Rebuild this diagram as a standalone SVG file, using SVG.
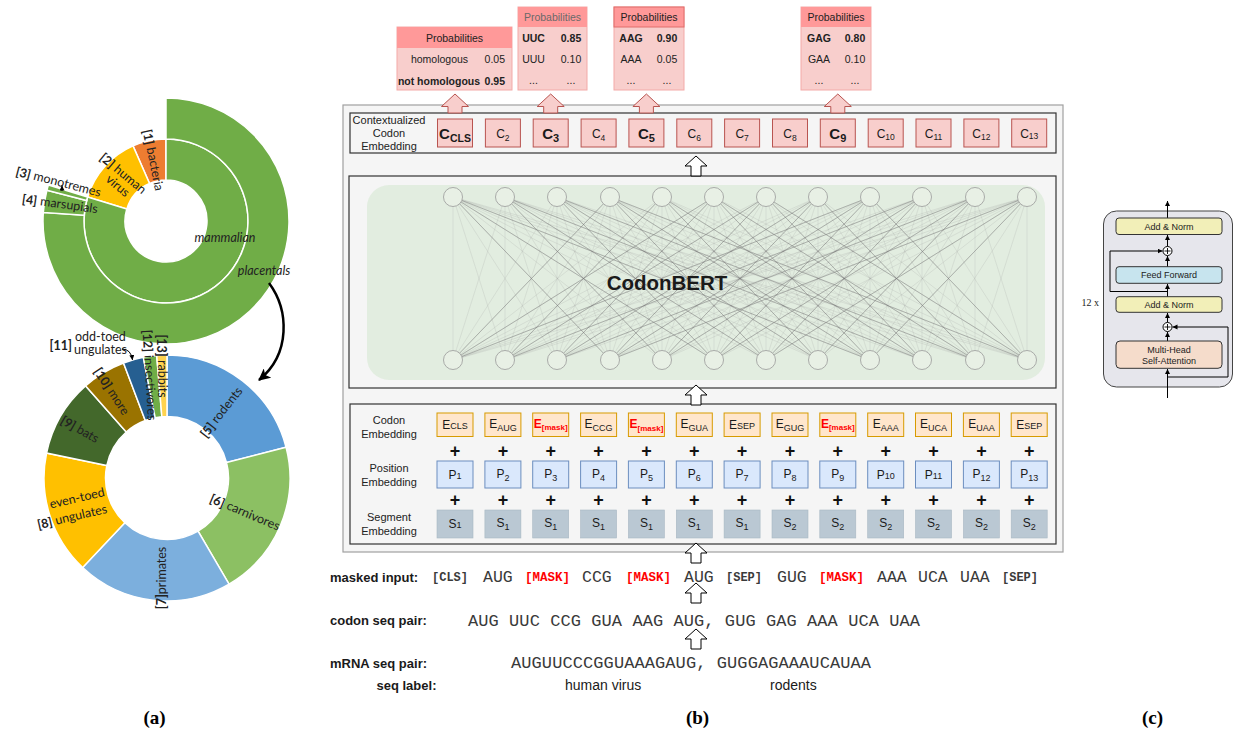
<svg xmlns="http://www.w3.org/2000/svg" width="1236" height="732" viewBox="0 0 1236 732">
<defs>
<style>
.s{font-family:"Liberation Sans",Arial,sans-serif;fill:#1a1a1a}
.mo{font-family:"Liberation Mono","Courier New",monospace;fill:#3a3a3a}
.la{font-family:Lato,"Open Sans",sans-serif;font-size:12.5px;fill:#222}
.b{font-weight:bold}
.red{fill:#ff0000}
.cb{fill:#f8cecc;stroke:#b85450;stroke-width:1}
.eb{fill:#ffe6cc;stroke:#d79b00;stroke-width:1}
.pb{fill:#dae8fc;stroke:#6c8ebf;stroke-width:1}
.sb{fill:#bac8d3;stroke:#a9b8c4;stroke-width:.6}
.panel{fill:#f5f5f5;stroke:#333;stroke-width:1.2}
.wa{fill:#fff;stroke:#000;stroke-width:1}
.pa{fill:#f8cecc;stroke:#b85450;stroke-width:1}
.seg{stroke:#fff;stroke-width:1.5}
.nd{fill:#e8f0e5;stroke:#999;stroke-width:.8}
.tb{stroke:#333;stroke-width:1}
.cl{fill:none;stroke:#000;stroke-width:1}
.pbx{fill:#f8cecc;stroke:#f3aaa8;stroke-width:1}
.phd{fill:#ff9999}
.pt{font-family:"Liberation Sans",Arial,sans-serif;font-size:10.5px;fill:#222;text-anchor:middle}
.lab{font-family:"Liberation Sans",Arial,sans-serif;font-size:11px;fill:#222;text-anchor:middle}
.ct{font-family:"Liberation Sans",Arial,sans-serif;font-size:9px;fill:#222;text-anchor:middle}
.pl{font-family:"Liberation Sans",Arial,sans-serif;font-size:18px;font-weight:bold;fill:#111;text-anchor:middle}
</style>
<path id="wArrow" d="M0 0L11 10L5 10L5 20L-5 20L-5 10L-11 10Z"/>
<path id="pArrow" d="M0 0L13.5 12.5L7 12.5L7 19L-7 19L-7 12.5L-13.5 12.5Z"/>
<marker id="ah" markerWidth="14" markerHeight="12" refX="11" refY="6" orient="auto" markerUnits="userSpaceOnUse"><path d="M0 0L12 6L0 12L3 6Z" fill="#000"/></marker>
<marker id="ahs" markerWidth="6" markerHeight="6" refX="5" refY="2.5" orient="auto" markerUnits="userSpaceOnUse"><path d="M0 0L5 2.5L0 5Z" fill="#000"/></marker>
</defs>
<rect width="1236" height="732" fill="#fff"/>

<!-- ================= (a) ================= -->
<g id="a-sunburst">
<path class="seg" fill="#ed7d31" d="M133.04 145.91A82 82 0 0 1 166 139L166 180A41 41 0 0 0 149.52 183.46Z"/>
<path class="seg" fill="#ffc000" d="M87.58 197.02A82 82 0 0 1 133.04 145.91L149.52 183.46A41 41 0 0 0 126.79 209.01Z"/>
<path class="seg" fill="#70ad47" d="M166 139A82 82 0 1 1 87.58 197.02L126.79 209.01A41 41 0 1 0 166 180Z"/>
<path class="seg" fill="#70ad47" d="M166 98A123 123 0 1 1 43.3 212.41L84.2 215.28A82 82 0 1 0 166 139Z"/>
<path class="seg" fill="#70ad47" d="M43.3 212.41A123 123 0 0 1 46.92 190.2L86.62 200.47A82 82 0 0 0 84.2 215.28Z"/>
<path class="seg" fill="#70ad47" d="M46.92 190.2A123 123 0 0 1 48.38 185.03L87.58 197.02A82 82 0 0 0 86.62 200.47Z"/>
</g>
<g id="a-labels-top">
<text class="la" font-size="13" text-anchor="middle" dominant-baseline="central" transform="translate(153.5 160) rotate(78.5)"><tspan class="b">[1]</tspan> bacteria</text>
<g transform="translate(121 179) rotate(40)">
<text class="la" font-size="13" text-anchor="middle" dominant-baseline="central" x="-2" y="-6"><tspan class="b">[2]</tspan> human</text>
<text class="la" font-size="13" text-anchor="middle" dominant-baseline="central" x="2" y="7">virus</text>
</g>
<text class="la" font-size="13" text-anchor="middle" dominant-baseline="central" transform="translate(58.5 181.5) rotate(14.5)"><tspan class="b">[3]</tspan> monotremes</text>
<text class="la" font-size="13" text-anchor="middle" dominant-baseline="central" transform="translate(60 203.5) rotate(8)"><tspan class="b">[4]</tspan> marsupials</text>
<path class="cl" d="M62 191V185.5" marker-end="url(#ahs)"/>
<text class="la" font-size="13.5" font-style="italic" x="225" y="242" text-anchor="middle">mammalian</text>
<text class="la" font-size="13.5" font-style="italic" x="264" y="275" text-anchor="middle">placentals</text>
</g>
<g id="a-link">
<path d="M269 283C289 310 291 354 259 380" fill="none" stroke="#000" stroke-width="2.5" marker-end="url(#ah)"/>
</g>
<g id="a-donut">
<path class="seg" fill="#5b9bd5" d="M167 355A123 123 0 0 1 286.08 447.2L226.54 462.6A61.5 61.5 0 0 0 167 416.5Z"/>
<path class="seg" fill="#8cc063" d="M286.08 447.2A123 123 0 0 1 229.05 584.2L198.03 531.1A61.5 61.5 0 0 0 226.54 462.6Z"/>
<path class="seg" fill="#7cafdd" d="M229.05 584.2A123 123 0 0 1 82.65 567.52L124.82 522.76A61.5 61.5 0 0 0 198.03 531.1Z"/>
<path class="seg" fill="#ffc000" d="M82.65 567.52A123 123 0 0 1 46.56 453.06L106.78 465.53A61.5 61.5 0 0 0 124.82 522.76Z"/>
<path class="seg" fill="#43682b" d="M46.56 453.06A123 123 0 0 1 85.5 385.87L126.25 431.94A61.5 61.5 0 0 0 106.78 465.53Z"/>
<path class="seg" fill="#9a7300" d="M85.5 385.87A123 123 0 0 1 123.52 362.95L145.26 420.47A61.5 61.5 0 0 0 126.25 431.94Z"/>
<path class="seg" fill="#265f91" d="M123.52 362.95A123 123 0 0 1 143.32 357.3L155.16 417.65A61.5 61.5 0 0 0 145.26 420.47Z"/>
<path class="seg" fill="#70ad47" d="M143.32 357.3A123 123 0 0 1 156.7 355.43L161.85 416.72A61.5 61.5 0 0 0 155.16 417.65Z"/>
<path class="seg" fill="#ffd34f" d="M156.7 355.43A123 123 0 0 1 167 355L167 416.5A61.5 61.5 0 0 0 161.85 416.72Z"/>
</g>
<g id="a-labels-bottom">
<text class="la" text-anchor="middle" dominant-baseline="central" transform="translate(221 412) rotate(-52)"><tspan class="b">[5]</tspan> rodents</text>
<text class="la" text-anchor="middle" dominant-baseline="central" transform="translate(245 512) rotate(23)"><tspan class="b">[6]</tspan> carnivores</text>
<text class="la" text-anchor="middle" dominant-baseline="central" transform="translate(161 578) rotate(-90)"><tspan class="b">[7]</tspan>primates</text>
<g transform="translate(75 507) rotate(-13)">
<text class="la" text-anchor="middle" dominant-baseline="central" x="4" y="-8.5">even-toed</text>
<text class="la" text-anchor="middle" dominant-baseline="central" x="-5" y="8.5"><tspan class="b">[8]</tspan> ungulates</text>
</g>
<text class="la" text-anchor="middle" dominant-baseline="central" transform="translate(80 429) rotate(30)"><tspan class="b">[9]</tspan> bats</text>
<text class="la" text-anchor="middle" dominant-baseline="central" transform="translate(112 391) rotate(57)"><tspan class="b">[10]</tspan> more</text>
<text class="la b" font-size="11" x="49.5" y="350">[11]</text>
<text class="la" font-size="10" x="75" y="340.5">odd-toed</text>
<text class="la" font-size="10" x="74" y="354">ungulates</text>
<path class="cl" d="M122 349Q131 349 132.5 360" marker-end="url(#ahs)"/>
<text class="la" text-anchor="middle" dominant-baseline="central" transform="translate(150 375) rotate(87)"><tspan class="b">[12]</tspan> insectivores</text>
<text class="la" text-anchor="middle" dominant-baseline="central" transform="translate(162 366) rotate(90)"><tspan class="b">[13]</tspan> rabbits</text>
</g>

<!-- ================= (b) ================= -->
<rect id="b-panel" x="343" y="105" width="720" height="447" fill="#f5f5f5" stroke="#a0a0a0" stroke-width="1.2"/>

<g id="prob-cls">
<rect class="pbx" x="397" y="27" width="115" height="63"/>
<rect class="phd" x="397" y="27" width="115" height="21"/>
<text class="pt" x="454.5" y="41.5">Probabilities</text>
<text class="pt" font-size="10" x="439.5" y="62.5">homologous</text>
<text class="pt" font-size="10" x="505" y="62.5" style="text-anchor:end">0.05</text>
<text class="pt b" font-size="10" x="439" y="84.5">not homologous</text>
<text class="pt b" font-size="10" x="505" y="84.5" style="text-anchor:end">0.95</text>
</g>
<g id="prob-c3">
<rect class="pbx" x="518" y="7" width="69" height="83"/>
<rect class="phd" x="518" y="7" width="69" height="20"/>
<text class="pt" x="552.5" y="21" style="fill:#6a6a6a">Probabilities</text>
<text class="pt b" font-size="11" x="533.5" y="42">UUC</text>
<text class="pt b" font-size="11" x="571" y="42">0.85</text>
<text class="pt" font-size="11" x="533.5" y="62.5">UUU</text>
<text class="pt" font-size="11" x="571" y="62.5">0.10</text>
<text class="pt" font-size="10" x="533.5" y="84">...</text>
<text class="pt" font-size="10" x="571" y="84">...</text>
</g>
<g id="prob-c5">
<rect class="pbx" x="614" y="7" width="70" height="83"/>
<rect class="phd" x="614" y="7" width="70" height="20" stroke="#e06c6a" stroke-width="1"/>
<text class="pt" x="649" y="21">Probabilities</text>
<text class="pt b" font-size="11" x="631" y="42">AAG</text>
<text class="pt b" font-size="11" x="667" y="42">0.90</text>
<text class="pt" font-size="11" x="631" y="62.5">AAA</text>
<text class="pt" font-size="11" x="667" y="62.5">0.05</text>
<text class="pt" font-size="10" x="631" y="84">...</text>
<text class="pt" font-size="10" x="667" y="84">...</text>
</g>
<g id="prob-c9">
<rect class="pbx" x="801" y="7" width="70" height="83"/>
<rect class="phd" x="801" y="7" width="70" height="20"/>
<text class="pt" x="836" y="21">Probabilities</text>
<text class="pt b" font-size="11" x="819" y="42">GAG</text>
<text class="pt b" font-size="11" x="855" y="42">0.80</text>
<text class="pt" font-size="11" x="819" y="62.5">GAA</text>
<text class="pt" font-size="11" x="855" y="62.5">0.10</text>
<text class="pt" font-size="10" x="819" y="84">...</text>
<text class="pt" font-size="10" x="855" y="84">...</text>
</g>

<g id="ctx-row">
<rect class="panel" x="350" y="113" width="706" height="40"/>
<text class="lab" font-size="10.5" x="389" y="124">Contextualized</text>
<text class="lab" font-size="10.5" x="389" y="137">Codon</text>
<text class="lab" font-size="10.5" x="389" y="150">Embedding</text>
</g>
<g id="c1"><rect class="cb" x="437.5" y="119" width="35" height="28"/><text class="s b" x="455" y="139" font-size="15" text-anchor="middle">C<tspan font-size="10.5" dy="3">CLS</tspan></text></g>
<g id="c2"><rect class="cb" x="485.4" y="119" width="35" height="28"/><text class="s" x="502.9" y="137.5" font-size="12" text-anchor="middle">C<tspan font-size="8.5" dy="3">2</tspan></text></g>
<g id="c3"><rect class="cb" x="533.2" y="119" width="35" height="28"/><text class="s b" x="550.7" y="139" font-size="15" text-anchor="middle">C<tspan font-size="11" dy="3">3</tspan></text></g>
<g id="c4"><rect class="cb" x="581.1" y="119" width="35" height="28"/><text class="s" x="598.6" y="137.5" font-size="12" text-anchor="middle">C<tspan font-size="8.5" dy="3">4</tspan></text></g>
<g id="c5"><rect class="cb" x="628.9" y="119" width="35" height="28"/><text class="s b" x="646.4" y="139" font-size="15" text-anchor="middle">C<tspan font-size="11" dy="3">5</tspan></text></g>
<g id="c6"><rect class="cb" x="676.8" y="119" width="35" height="28"/><text class="s" x="694.3" y="137.5" font-size="12" text-anchor="middle">C<tspan font-size="8.5" dy="3">6</tspan></text></g>
<g id="c7"><rect class="cb" x="724.6" y="119" width="35" height="28"/><text class="s" x="742.1" y="137.5" font-size="12" text-anchor="middle">C<tspan font-size="8.5" dy="3">7</tspan></text></g>
<g id="c8"><rect class="cb" x="772.5" y="119" width="35" height="28"/><text class="s" x="790" y="137.5" font-size="12" text-anchor="middle">C<tspan font-size="8.5" dy="3">8</tspan></text></g>
<g id="c9"><rect class="cb" x="820.3" y="119" width="35" height="28"/><text class="s b" x="837.8" y="139" font-size="15" text-anchor="middle">C<tspan font-size="11" dy="3">9</tspan></text></g>
<g id="c10"><rect class="cb" x="868.2" y="119" width="35" height="28"/><text class="s" x="885.7" y="137.5" font-size="12" text-anchor="middle">C<tspan font-size="8.5" dy="2">10</tspan></text></g>
<g id="c11"><rect class="cb" x="916" y="119" width="35" height="28"/><text class="s" x="933.5" y="137.5" font-size="12" text-anchor="middle">C<tspan font-size="8.5" dy="2">11</tspan></text></g>
<g id="c12"><rect class="cb" x="963.9" y="119" width="35" height="28"/><text class="s" x="981.4" y="137.5" font-size="12" text-anchor="middle">C<tspan font-size="8.5" dy="2">12</tspan></text></g>
<g id="c13"><rect class="cb" x="1011.7" y="119" width="35" height="28"/><text class="s" x="1029.2" y="137.5" font-size="12" text-anchor="middle">C<tspan font-size="8.5" dy="1">13</tspan></text></g>

<g id="codonbert">
<rect class="panel" x="349" y="176" width="707" height="212"/>
<rect x="367" y="185" width="678" height="195" rx="22" fill="#e2ede0"/>
<g id="attn-lines">
<path fill="none" stroke="#9a9a9a" stroke-opacity=".28" stroke-width=".7" d="M453 360L453 197L505 360M557 360L453 197L610 360M662 360L453 197L714 360M766 360L453 197L818 360M870 360L453 197L922 360M975 360L453 197L1027 360M453 360L505 197L505 360M557 360L505 197L610 360M662 360L505 197L714 360M766 360L505 197L818 360M870 360L505 197L922 360M975 360L505 197L1027 360M453 360L557 197L505 360M557 360L557 197L610 360M662 360L557 197L714 360M766 360L557 197L818 360M870 360L557 197L922 360M975 360L557 197L1027 360M453 360L610 197L505 360M557 360L610 197L610 360M662 360L610 197L714 360M766 360L610 197L818 360M870 360L610 197L922 360M975 360L610 197L1027 360M453 360L662 197L505 360M557 360L662 197L610 360M662 360L662 197L714 360M766 360L662 197L818 360M870 360L662 197L922 360M975 360L662 197L1027 360M453 360L714 197L505 360M557 360L714 197L610 360M662 360L714 197L714 360M766 360L714 197L818 360M870 360L714 197L922 360M975 360L714 197L1027 360M453 360L766 197L505 360M557 360L766 197L610 360M662 360L766 197L714 360M766 360L766 197L818 360M870 360L766 197L922 360M975 360L766 197L1027 360M453 360L818 197L505 360M557 360L818 197L610 360M662 360L818 197L714 360M766 360L818 197L818 360M870 360L818 197L922 360M975 360L818 197L1027 360M453 360L870 197L505 360M557 360L870 197L610 360M662 360L870 197L714 360M766 360L870 197L818 360M870 360L870 197L922 360M975 360L870 197L1027 360M453 360L922 197L505 360M557 360L922 197L610 360M662 360L922 197L714 360M766 360L922 197L818 360M870 360L922 197L922 360M975 360L922 197L1027 360M453 360L975 197L505 360M557 360L975 197L610 360M662 360L975 197L714 360M766 360L975 197L818 360M870 360L975 197L922 360M975 360L975 197L1027 360M453 360L1027 197L505 360M557 360L1027 197L610 360M662 360L1027 197L714 360M766 360L1027 197L818 360M870 360L1027 197L922 360M975 360L1027 197L1027 360"/>
<path fill="none" stroke="#777" stroke-opacity=".6" stroke-width=".75" d="M453 197L610 360M453 197L714 360M453 197L870 360M505 197L662 360M505 197L766 360M505 197L922 360M557 197L714 360M557 197L818 360M557 197L975 360M610 197L453 360M610 197L766 360M610 197L870 360M610 197L1027 360M662 197L505 360M662 197L818 360M662 197L922 360M714 197L557 360M714 197L453 360M714 197L870 360M714 197L975 360M766 197L610 360M766 197L505 360M766 197L922 360M766 197L1027 360M818 197L662 360M818 197L557 360M818 197L975 360M870 197L714 360M870 197L610 360M870 197L453 360M870 197L1027 360M922 197L766 360M922 197L662 360M922 197L505 360M975 197L818 360M975 197L714 360M975 197L557 360M1027 197L870 360M1027 197L766 360M1027 197L610 360"/>
</g>
<g id="attn-nodes">
<circle class="nd" cx="453" cy="197" r="9.5"/><circle class="nd" cx="505" cy="197" r="9.5"/><circle class="nd" cx="557" cy="197" r="9.5"/><circle class="nd" cx="610" cy="197" r="9.5"/><circle class="nd" cx="662" cy="197" r="9.5"/><circle class="nd" cx="714" cy="197" r="9.5"/><circle class="nd" cx="766" cy="197" r="9.5"/><circle class="nd" cx="818" cy="197" r="9.5"/><circle class="nd" cx="870" cy="197" r="9.5"/><circle class="nd" cx="922" cy="197" r="9.5"/><circle class="nd" cx="975" cy="197" r="9.5"/><circle class="nd" cx="1027" cy="197" r="9.5"/>
<circle class="nd" cx="453" cy="360" r="9.5"/><circle class="nd" cx="505" cy="360" r="9.5"/><circle class="nd" cx="557" cy="360" r="9.5"/><circle class="nd" cx="610" cy="360" r="9.5"/><circle class="nd" cx="662" cy="360" r="9.5"/><circle class="nd" cx="714" cy="360" r="9.5"/><circle class="nd" cx="766" cy="360" r="9.5"/><circle class="nd" cx="818" cy="360" r="9.5"/><circle class="nd" cx="870" cy="360" r="9.5"/><circle class="nd" cx="922" cy="360" r="9.5"/><circle class="nd" cx="975" cy="360" r="9.5"/><circle class="nd" cx="1027" cy="360" r="9.5"/>
</g>
<text class="s b" x="667" y="290" font-size="20.5" text-anchor="middle" fill="#111">CodonBERT</text>
</g>

<g id="embed-panel">
<rect class="panel" x="350" y="404" width="706" height="140"/>
<text class="lab" x="389" y="424">Codon</text>
<text class="lab" x="389" y="438">Embedding</text>
<text class="lab" x="389" y="472">Position</text>
<text class="lab" x="389" y="486">Embedding</text>
<text class="lab" x="389" y="521">Segment</text>
<text class="lab" x="389" y="535">Embedding</text>
</g>
<g id="codon-emb">
<g id="e1"><rect class="eb" x="437" y="413" width="36" height="23.5"/><text class="s" x="455" y="429" font-size="12" text-anchor="middle">E<tspan font-size="9">CLS</tspan></text></g>
<g id="e2"><rect class="eb" x="484.9" y="413" width="36" height="23.5"/><text class="s" x="502.9" y="428" font-size="12" text-anchor="middle">E<tspan font-size="9" dy="3">AUG</tspan></text></g>
<g id="e3"><rect class="eb" x="532.7" y="413" width="36" height="23.5"/><text class="s b red" x="550.7" y="428" font-size="12" text-anchor="middle">E<tspan font-size="8" dy="2">[mask]</tspan></text></g>
<g id="e4"><rect class="eb" x="580.6" y="413" width="36" height="23.5"/><text class="s" x="598.6" y="428" font-size="12" text-anchor="middle">E<tspan font-size="9" dy="3">CCG</tspan></text></g>
<g id="e5"><rect class="eb" x="628.4" y="413" width="36" height="23.5"/><text class="s b red" x="646.4" y="428" font-size="12" text-anchor="middle">E<tspan font-size="8" dy="3">[mask]</tspan></text></g>
<g id="e6"><rect class="eb" x="676.3" y="413" width="36" height="23.5"/><text class="s" x="694.3" y="428" font-size="12" text-anchor="middle">E<tspan font-size="9" dy="3">GUA</tspan></text></g>
<g id="e7"><rect class="eb" x="724.1" y="413" width="36" height="23.5"/><text class="s" x="742.1" y="429" font-size="12" text-anchor="middle">E<tspan font-size="9">SEP</tspan></text></g>
<g id="e8"><rect class="eb" x="772" y="413" width="36" height="23.5"/><text class="s" x="790" y="428" font-size="12" text-anchor="middle">E<tspan font-size="9" dy="3">GUG</tspan></text></g>
<g id="e9"><rect class="eb" x="819.8" y="413" width="36" height="23.5"/><text class="s b red" x="837.8" y="428" font-size="12" text-anchor="middle">E<tspan font-size="8" dy="2">[mask]</tspan></text></g>
<g id="e10"><rect class="eb" x="867.7" y="413" width="36" height="23.5"/><text class="s" x="885.7" y="428" font-size="12" text-anchor="middle">E<tspan font-size="9" dy="3">AAA</tspan></text></g>
<g id="e11"><rect class="eb" x="915.5" y="413" width="36" height="23.5"/><text class="s" x="933.5" y="428" font-size="12" text-anchor="middle">E<tspan font-size="9" dy="3">UCA</tspan></text></g>
<g id="e12"><rect class="eb" x="963.4" y="413" width="36" height="23.5"/><text class="s" x="981.4" y="428" font-size="12" text-anchor="middle">E<tspan font-size="9" dy="3">UAA</tspan></text></g>
<g id="e13"><rect class="eb" x="1011.2" y="413" width="36" height="23.5"/><text class="s" x="1029.2" y="429" font-size="12" text-anchor="middle">E<tspan font-size="9">SEP</tspan></text></g>
</g>
<g id="plus-row1">
<text class="pl" x="455" y="457">+</text><text class="pl" x="502.9" y="457">+</text><text class="pl" x="550.7" y="457">+</text><text class="pl" x="598.6" y="457">+</text><text class="pl" x="646.4" y="457">+</text><text class="pl" x="694.3" y="457">+</text><text class="pl" x="742.1" y="457">+</text><text class="pl" x="790" y="457">+</text><text class="pl" x="837.8" y="457">+</text><text class="pl" x="885.7" y="457">+</text><text class="pl" x="933.5" y="457">+</text><text class="pl" x="981.4" y="457">+</text><text class="pl" x="1029.2" y="457">+</text>
</g>
<g id="pos-emb">
<g id="p1"><rect class="pb" x="437" y="461" width="36" height="27"/><text class="s" x="455" y="479" font-size="12" text-anchor="middle">P<tspan font-size="9">1</tspan></text></g>
<g id="p2"><rect class="pb" x="484.9" y="461" width="36" height="27"/><text class="s" x="502.9" y="478" font-size="12" text-anchor="middle">P<tspan font-size="9" dy="3">2</tspan></text></g>
<g id="p3"><rect class="pb" x="532.7" y="461" width="36" height="27"/><text class="s" x="550.7" y="478" font-size="12" text-anchor="middle">P<tspan font-size="9" dy="3">3</tspan></text></g>
<g id="p4"><rect class="pb" x="580.6" y="461" width="36" height="27"/><text class="s" x="598.6" y="478" font-size="12" text-anchor="middle">P<tspan font-size="9" dy="3">4</tspan></text></g>
<g id="p5"><rect class="pb" x="628.4" y="461" width="36" height="27"/><text class="s" x="646.4" y="478" font-size="12" text-anchor="middle">P<tspan font-size="9" dy="3">5</tspan></text></g>
<g id="p6"><rect class="pb" x="676.3" y="461" width="36" height="27"/><text class="s" x="694.3" y="478" font-size="12" text-anchor="middle">P<tspan font-size="9" dy="3">6</tspan></text></g>
<g id="p7"><rect class="pb" x="724.1" y="461" width="36" height="27"/><text class="s" x="742.1" y="478" font-size="12" text-anchor="middle">P<tspan font-size="9" dy="3">7</tspan></text></g>
<g id="p8"><rect class="pb" x="772" y="461" width="36" height="27"/><text class="s" x="790" y="478" font-size="12" text-anchor="middle">P<tspan font-size="9" dy="3">8</tspan></text></g>
<g id="p9"><rect class="pb" x="819.8" y="461" width="36" height="27"/><text class="s" x="837.8" y="478" font-size="12" text-anchor="middle">P<tspan font-size="9" dy="3">9</tspan></text></g>
<g id="p10"><rect class="pb" x="867.7" y="461" width="36" height="27"/><text class="s" x="885.7" y="479" font-size="12" text-anchor="middle">P<tspan font-size="9">10</tspan></text></g>
<g id="p11"><rect class="pb" x="915.5" y="461" width="36" height="27"/><text class="s" x="933.5" y="479" font-size="12" text-anchor="middle">P<tspan font-size="9">11</tspan></text></g>
<g id="p12"><rect class="pb" x="963.4" y="461" width="36" height="27"/><text class="s" x="981.4" y="478" font-size="12" text-anchor="middle">P<tspan font-size="9" dy="3">12</tspan></text></g>
<g id="p13"><rect class="pb" x="1011.2" y="461" width="36" height="27"/><text class="s" x="1029.2" y="478" font-size="12" text-anchor="middle">P<tspan font-size="9" dy="3">13</tspan></text></g>
</g>
<g id="plus-row2">
<text class="pl" x="455" y="505.5">+</text><text class="pl" x="502.9" y="505.5">+</text><text class="pl" x="550.7" y="505.5">+</text><text class="pl" x="598.6" y="505.5">+</text><text class="pl" x="646.4" y="505.5">+</text><text class="pl" x="694.3" y="505.5">+</text><text class="pl" x="742.1" y="505.5">+</text><text class="pl" x="790" y="505.5">+</text><text class="pl" x="837.8" y="505.5">+</text><text class="pl" x="885.7" y="505.5">+</text><text class="pl" x="933.5" y="505.5">+</text><text class="pl" x="981.4" y="505.5">+</text><text class="pl" x="1029.2" y="505.5">+</text>
</g>
<g id="seg-emb">
<g id="s1"><rect class="sb" x="437" y="510" width="36" height="28"/><text class="s" x="455" y="528" font-size="12" text-anchor="middle">S<tspan font-size="9">1</tspan></text></g>
<g id="s2"><rect class="sb" x="484.9" y="510" width="36" height="28"/><text class="s" x="502.9" y="527" font-size="12" text-anchor="middle">S<tspan font-size="9" dy="3">1</tspan></text></g>
<g id="s3"><rect class="sb" x="532.7" y="510" width="36" height="28"/><text class="s" x="550.7" y="527" font-size="12" text-anchor="middle">S<tspan font-size="9" dy="3">1</tspan></text></g>
<g id="s4"><rect class="sb" x="580.6" y="510" width="36" height="28"/><text class="s" x="598.6" y="527" font-size="12" text-anchor="middle">S<tspan font-size="9" dy="3">1</tspan></text></g>
<g id="s5"><rect class="sb" x="628.4" y="510" width="36" height="28"/><text class="s" x="646.4" y="527" font-size="12" text-anchor="middle">S<tspan font-size="9" dy="3">1</tspan></text></g>
<g id="s6"><rect class="sb" x="676.3" y="510" width="36" height="28"/><text class="s" x="694.3" y="527" font-size="12" text-anchor="middle">S<tspan font-size="9" dy="3">1</tspan></text></g>
<g id="s7"><rect class="sb" x="724.1" y="510" width="36" height="28"/><text class="s" x="742.1" y="527" font-size="12" text-anchor="middle">S<tspan font-size="9" dy="3">1</tspan></text></g>
<g id="s8"><rect class="sb" x="772" y="510" width="36" height="28"/><text class="s" x="790" y="527" font-size="12" text-anchor="middle">S<tspan font-size="9" dy="3">2</tspan></text></g>
<g id="s9"><rect class="sb" x="819.8" y="510" width="36" height="28"/><text class="s" x="837.8" y="527" font-size="12" text-anchor="middle">S<tspan font-size="9" dy="3">2</tspan></text></g>
<g id="s10"><rect class="sb" x="867.7" y="510" width="36" height="28"/><text class="s" x="885.7" y="527" font-size="12" text-anchor="middle">S<tspan font-size="9" dy="3">2</tspan></text></g>
<g id="s11"><rect class="sb" x="915.5" y="510" width="36" height="28"/><text class="s" x="933.5" y="527" font-size="12" text-anchor="middle">S<tspan font-size="9" dy="3">2</tspan></text></g>
<g id="s12"><rect class="sb" x="963.4" y="510" width="36" height="28"/><text class="s" x="981.4" y="527" font-size="12" text-anchor="middle">S<tspan font-size="9" dy="3">2</tspan></text></g>
<g id="s13"><rect class="sb" x="1011.2" y="510" width="36" height="28"/><text class="s" x="1029.2" y="527" font-size="12" text-anchor="middle">S<tspan font-size="9" dy="3">2</tspan></text></g>
</g>

<g id="connectors">
<use href="#pArrow" class="pa" x="455" y="94"/>
<use href="#pArrow" class="pa" x="550.7" y="94"/>
<use href="#pArrow" class="pa" x="646.4" y="94"/>
<use href="#pArrow" class="pa" x="837.8" y="94"/>
<use href="#wArrow" class="wa" x="696" y="156"/>
<use href="#wArrow" class="wa" x="696" y="385"/>
<use href="#wArrow" class="wa" x="696" y="543"/>
<use href="#wArrow" class="wa" x="696" y="583"/>
<use href="#wArrow" class="wa" x="696" y="629"/>
</g>

<g id="inputs">
<text class="s b" x="330" y="582" font-size="13">masked input:</text>
<text class="mo b" x="432" y="581" font-size="12">[CLS]</text>
<text class="mo" x="483" y="582" font-size="16.5">AUG</text>
<text class="mo b red" x="525" y="581" font-size="12.5">[MASK]</text>
<text class="mo" x="582" y="582" font-size="16.5">CCG</text>
<text class="mo b red" x="626" y="581" font-size="12.5">[MASK]</text>
<text class="mo" x="684" y="582" font-size="16.5">AUG</text>
<text class="mo b" x="726" y="581" font-size="12">[SEP]</text>
<text class="mo" x="777" y="582" font-size="16.5">GUG</text>
<text class="mo b red" x="819" y="581" font-size="12.5">[MASK]</text>
<text class="mo" x="877" y="582" font-size="16.5">AAA</text>
<text class="mo" x="918" y="582" font-size="16.5">UCA</text>
<text class="mo" x="960" y="582" font-size="16.5">UAA</text>
<text class="mo b" x="1002" y="581" font-size="12">[SEP]</text>
<text class="s b" x="330" y="625" font-size="13">codon seq pair:</text>
<text class="mo" x="468" y="626" font-size="17" textLength="452" lengthAdjust="spacing">AUG UUC CCG GUA AAG AUG, GUG GAG AAA UCA UAA</text>
<text class="s b" x="330" y="668" font-size="13">mRNA seq pair:</text>
<text class="mo" x="511" y="668" font-size="17" textLength="360" lengthAdjust="spacing">AUGUUCCCGGUAAAGAUG, GUGGAGAAAUCAUAA</text>
<text class="s b" x="376.5" y="690" font-size="13">seq label:</text>
<text class="s" x="565" y="690" font-size="14">human virus</text>
<text class="s" x="770" y="690" font-size="14">rodents</text>
</g>

<!-- ================= (c) ================= -->
<g id="encoder">
<rect x="1103.5" y="211" width="129" height="176" rx="13" fill="#e6e6ec" stroke="#444" stroke-width="1"/>
<text x="1099" y="306" font-family="'Liberation Serif','Times New Roman',serif" font-size="10" text-anchor="end" fill="#222">12 x</text>
<g id="enc-lines">
<path class="cl" d="M1167.5 398V369" marker-end="url(#ahs)"/>
<path class="cl" d="M1167.5 377H1228V327H1172.5" marker-end="url(#ahs)"/>
<path class="cl" d="M1167.5 341V332" marker-end="url(#ahs)"/>
<path class="cl" d="M1167.5 322.5V313" marker-end="url(#ahs)"/>
<path class="cl" d="M1167.5 297V284" marker-end="url(#ahs)"/>
<path class="cl" d="M1167.5 291.5H1110V251H1162.5" marker-end="url(#ahs)"/>
<path class="cl" d="M1167.5 267V256" marker-end="url(#ahs)"/>
<path class="cl" d="M1167.5 246.5V235" marker-end="url(#ahs)"/>
<path class="cl" d="M1167.5 218V201" marker-end="url(#ahs)"/>
</g>
<g id="enc-addnorm2"><rect x="1116" y="218" width="106" height="16.5" rx="3" fill="#f2efb8" class="tb"/><text class="ct" x="1169" y="229.5">Add &amp; Norm</text></g>
<g id="enc-plus2"><circle cx="1167.5" cy="251" r="4.5" fill="#fff" stroke="#000"/><path d="M1164.5 251H1170.5M1167.5 248V254" stroke="#000" stroke-width=".9"/></g>
<g id="enc-ff"><rect x="1116" y="266.7" width="106" height="16.6" rx="3" fill="#c7e4ee" class="tb"/><text class="ct" x="1169" y="278.2">Feed Forward</text></g>
<g id="enc-addnorm1"><rect x="1116" y="296.7" width="106" height="15.6" rx="3" fill="#f2efb8" class="tb"/><text class="ct" x="1169" y="307.7">Add &amp; Norm</text></g>
<g id="enc-plus1"><circle cx="1167.5" cy="327" r="4.5" fill="#fff" stroke="#000"/><path d="M1164.5 327H1170.5M1167.5 324V330" stroke="#000" stroke-width=".9"/></g>
<g id="enc-mha"><rect x="1116" y="341" width="106" height="27.3" rx="4" fill="#f5dccb" class="tb"/><text class="ct" x="1169" y="353">Multi-Head</text><text class="ct" x="1169" y="364">Self-Attention</text></g>
</g>

<g id="captions">
<text x="154.5" y="724" font-family="'Liberation Serif','Times New Roman',serif" font-weight="bold" font-size="19" text-anchor="middle" fill="#000">(a)</text>
<text x="697.5" y="724" font-family="'Liberation Serif','Times New Roman',serif" font-weight="bold" font-size="19" text-anchor="middle" fill="#000">(b)</text>
<text x="1152.5" y="724" font-family="'Liberation Serif','Times New Roman',serif" font-weight="bold" font-size="19" text-anchor="middle" fill="#000">(c)</text>
</g>
</svg>
